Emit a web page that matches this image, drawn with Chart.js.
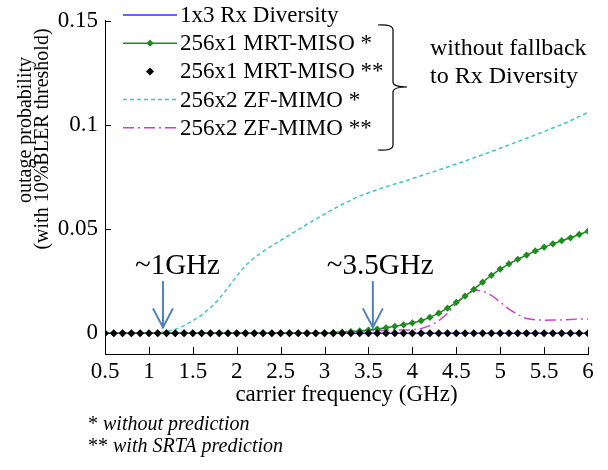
<!DOCTYPE html>
<html><head><meta charset="utf-8">
<script src="https://cdn.jsdelivr.net/npm/chart.js@4/dist/chart.umd.min.js"></script>
<style>html,body{margin:0;padding:0;background:#fff}#wrap{width:608px;height:470px;position:relative}</style>
</head><body><div id="wrap"><canvas id="c" width="608" height="470"></canvas></div>
<script>
// ---- data ----
const freqGHz = [0.5,0.6,0.7,0.8,0.9,1.0,1.1,1.2,1.3,1.4,1.5,1.6,1.7,1.8,1.9,2.0,2.1,2.2,2.3,2.4,2.5,2.6,2.7,2.8,2.9,3.0,3.1,3.2,3.3,3.4,3.5,3.6,3.7,3.8,3.9,4.0,4.1,4.2,4.3,4.4,4.5,4.6,4.7,4.8,4.9,5.0,5.1,5.2,5.3,5.4,5.5,5.6,5.7,5.8,5.9,6.0];
const rxDiversity1x3 = [0,0,0,0,0,0,0,0,0,0,0,0,0,0,0,0,0,0,0,0,0,0,0,0,0,0,0,0,0,0,0,0,0,0,0,0,0,0,0,0,0,0,0,0,0,0,0,0,0,0,0,0,0,0,0,0];
const mrtMisoNoPred = [0,0,0,0,0,0,0,0,0,0,0,0,0,0,0,0,0,0,0,0,0,0,0,0,0,0,0.0003,0.0005,0.0008,0.0011,0.0015,0.002,0.0026,0.0033,0.004,0.0049,0.006,0.0076,0.0096,0.012,0.0148,0.0178,0.021,0.0245,0.0278,0.0308,0.0333,0.0355,0.0375,0.0395,0.0413,0.0429,0.0444,0.0458,0.0474,0.049];
const mrtMisoSrta = [0,0,0,0,0,0,0,0,0,0,0,0,0,0,0,0,0,0,0,0,0,0,0,0,0,0,0,0,0,0,0,0,0,0,0,0,0,0,0,0,0,0,0,0,0,0,0,0,0,0,0,0,0,0,0,0];
const zfMimoNoPred = [0,0,0,0,0,0,0.0002,0.0007,0.0018,0.0036,0.006,0.0087,0.0122,0.0165,0.0218,0.0275,0.0325,0.0362,0.0393,0.042,0.0446,0.0471,0.0497,0.0523,0.0548,0.0572,0.0596,0.0618,0.0639,0.0658,0.0674,0.0689,0.0703,0.0716,0.0729,0.0742,0.0756,0.077,0.0784,0.0798,0.0812,0.0827,0.0842,0.0857,0.0872,0.0888,0.0904,0.092,0.0936,0.0952,0.0968,0.0985,0.1002,0.102,0.104,0.106];
const zfMimoSrta = [0,0,0,0,0,0,0,0,0,0,0,0,0,0,0,0,0,0,0,0,0,0,0,0,0,0,0.0003,0.0006,0.0009,0.0011,0.0012,0.0013,0.0014,0.0015,0.0015,0.0016,0.0022,0.0036,0.0059,0.0095,0.0143,0.018,0.0207,0.0203,0.0182,0.0149,0.0116,0.0089,0.007,0.0064,0.0062,0.0063,0.0064,0.0066,0.0068,0.0068];
const seriesNames = ['1x3 Rx Diversity','256x1 MRT-MISO *','256x1 MRT-MISO **','256x2 ZF-MIMO *','256x2 ZF-MIMO **'];
const xTicks = [0.5,1,1.5,2,2.5,3,3.5,4,4.5,5,5.5,6];
const yTicks = [0,0.05,0.1,0.15];
const markerLabels = ['~1GHz','~3.5GHz'];
const markerFreqs = [1.16,3.55];
const footNotes = ['without prediction','with SRTA prediction'];

// ---- styles ----
const SERIF = '"Liberation Serif", "Times New Roman", serif';
const pts = (ys) => freqGHz.map((f,i)=>({x:f,y:ys[i]}));
const styles = [
  {color:'#3535f0', dash:[], line:true, marker:false},
  {color:'#1e8c1e', dash:[], line:true, marker:true, mColor:'#1e8c1e', mr:3.6},
  {color:'#000000', dash:[], line:false, marker:true, mColor:'#000000', mr:4},
  {color:'#40c6c6', dash:[4,3], line:true, marker:false},
  {color:'#cc40cc', dash:[11,4,2,4], line:true, marker:false}
];
const values = [rxDiversity1x3, mrtMisoNoPred, mrtMisoSrta, zfMimoNoPred, zfMimoSrta];
const drawOrder = [4,1,0,3,2];
const datasets = values.map((v,i)=>({
  label: seriesNames[i],
  data: pts(v),
  borderColor: styles[i].color,
  backgroundColor: styles[i].mColor || styles[i].color,
  borderWidth: 1.5,
  borderDash: styles[i].dash,
  showLine: styles[i].line,
  pointStyle: 'rectRot',
  pointRadius: styles[i].marker ? styles[i].mr : 0,
  pointBorderWidth: 0,
  pointBackgroundColor: styles[i].mColor || styles[i].color,
  tension: 0,
  order: drawOrder[i]
}));

const decor = {
  id:'decor',
  afterDraw(chart){
    const {ctx, chartArea:a, scales:{x,y}} = chart;
    ctx.save();
    // inward ticks
    ctx.strokeStyle='#000'; ctx.lineWidth=1;
    xTicks.forEach(v=>{const px=Math.round(x.getPixelForValue(v))+0.5; ctx.beginPath(); ctx.moveTo(px,a.bottom); ctx.lineTo(px,a.bottom-7); ctx.stroke();});
    yTicks.forEach(v=>{const py=Math.round(y.getPixelForValue(v))+0.5; ctx.beginPath(); ctx.moveTo(a.left,py); ctx.lineTo(a.left+6,py); ctx.stroke();});
    // y title (two lines)
    ctx.fillStyle='#000';
    ctx.font='20px '+SERIF;
    ctx.textAlign='center'; ctx.textBaseline='middle';
    [['outage probability',26,130],['(with 10%BLER threshold)',43,139]].forEach(([t,xx,yy])=>{
      ctx.save(); ctx.translate(xx,yy); ctx.rotate(-Math.PI/2); ctx.fillText(t,0,0); ctx.restore();
    });
    // legend
    ctx.font='23px '+SERIF; ctx.textAlign='left'; ctx.textBaseline='middle';
    seriesNames.forEach((name,i)=>{
      const yy = 15 + i*28.2, s = styles[i];
      if (s.line){ ctx.save(); ctx.strokeStyle=s.color; ctx.lineWidth=1.5; ctx.setLineDash(s.dash); ctx.beginPath(); ctx.moveTo(123,yy); ctx.lineTo(177,yy); ctx.stroke(); ctx.restore(); }
      if (s.marker){ const r=s.mr; ctx.fillStyle=s.mColor; ctx.beginPath(); ctx.moveTo(150,yy-r); ctx.lineTo(150+r,yy); ctx.lineTo(150,yy+r); ctx.lineTo(150-r,yy); ctx.closePath(); ctx.fill(); }
      ctx.fillStyle='#000'; ctx.fillText(name,180,yy+1);
    });
    // bracket
    ctx.strokeStyle='#000'; ctx.lineWidth=1.2;
    ctx.beginPath();
    ctx.moveTo(378,25); ctx.quadraticCurveTo(393,24,393,30);
    ctx.lineTo(393,82); ctx.quadraticCurveTo(393,87,407,87);
    ctx.moveTo(407,87); ctx.quadraticCurveTo(393,87,393,92);
    ctx.lineTo(393,145); ctx.quadraticCurveTo(393,151,378,150);
    ctx.stroke();
    ctx.font='24px '+SERIF; ctx.textBaseline='alphabetic';
    ctx.fillText('without fallback',430,55);
    ctx.fillText('to Rx Diversity',430,83);
    // frequency markers (arrows + labels), positioned via the scales
    ctx.font='29px '+SERIF;
    markerFreqs.forEach((f,i)=>{
      const px = x.getPixelForValue(f);
      const yTop = y.getPixelForValue(0.025), yBot = y.getPixelForValue(0.0028);
      ctx.strokeStyle='#4f81bd'; ctx.lineWidth=2;
      ctx.beginPath(); ctx.moveTo(px,yTop); ctx.lineTo(px,yBot); ctx.stroke();
      ctx.beginPath(); ctx.moveTo(px-10,yBot-19); ctx.lineTo(px,yBot); ctx.lineTo(px+10,yBot-19); ctx.stroke();
      ctx.fillStyle='#000';
      ctx.fillText(markerLabels[i], px-28-(i?18:0), y.getPixelForValue(0.0283));
    });
    // foot notes
    ctx.font='20px '+SERIF;
    ctx.fillText('*',88,430); ctx.fillText('**',88,452);
    ctx.font='italic 20px '+SERIF;
    ctx.fillText(footNotes[0],103,430);
    ctx.fillText(footNotes[1],113,452);
    ctx.restore();
  }
};

new Chart(document.getElementById('c'), {
  type:'scatter',
  data:{datasets},
  options:{
    responsive:false, animation:false, devicePixelRatio:1,
    layout:{padding:{top:15,right:20,bottom:56,left:0}},
    plugins:{legend:{display:false}, tooltip:{enabled:false}},
    scales:{
      x:{type:'linear', min:0.5, max:6,
        afterBuildTicks:s=>{s.ticks=xTicks.map(v=>({value:v}));},
        afterFit:s=>{s.height=60;},
        grid:{display:true, drawOnChartArea:false, drawTicks:false},
        border:{display:true,color:'#000',width:1},
        ticks:{color:'#000', padding:4, maxRotation:0, autoSkip:false, font:{family:SERIF,size:23}, callback:v=>String(v)},
        title:{display:true, text:'carrier frequency (GHz)', color:'#000', font:{family:SERIF,size:23}, padding:{top:0,bottom:5}}
      },
      y:{type:'linear', min:-0.01, max:0.15,
        afterBuildTicks:s=>{s.ticks=yTicks.map(v=>({value:v}));},
        afterFit:s=>{s.width=105;},
        grid:{display:true, drawOnChartArea:false, drawTicks:false},
        border:{display:true,color:'#000',width:1},
        ticks:{color:'#000', padding:7, font:{family:SERIF,size:23}, callback:v=>String(v)}
      }
    }
  },
  plugins:[decor]
});
</script>
</body></html>
